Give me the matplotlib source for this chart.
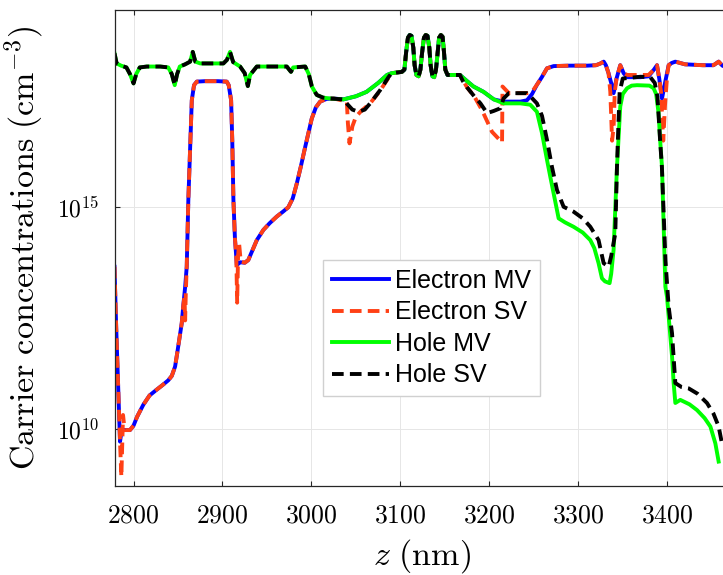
import numpy as np
import matplotlib.pyplot as plt

plt.rcParams['mathtext.fontset'] = 'cm'

# carrier densities, stored as log10(n / cm^-3)

# holes, left part (MV and SV coincide)
z_hole_left = [2778.6, 2781, 2786, 2792, 2796, 2800, 2803, 2807, 2815, 2830,
               2839, 2843, 2846.3, 2849, 2852, 2858, 2863.6, 2866.6, 2869.5, 2875,
               2890, 2901, 2905, 2908.5, 2912, 2919.8, 2925, 2928.5, 2931, 2938.6,
               2950, 2972.3, 2975, 2977, 2979.5, 2993, 2997, 3000.5, 3006, 3013,
               3021, 3036]
lg_hole_left = [18.47, 18.24, 18.19, 18.15, 18.0, 17.79, 18.0, 18.15, 18.17, 18.17,
                18.15, 18.0, 17.75, 18.0, 18.17, 18.22, 18.28, 18.50, 18.28, 18.24,
                18.24, 18.24, 18.32, 18.50, 18.27, 18.17, 18.02, 17.73, 17.98, 18.17,
                18.17, 18.17, 18.1, 18.05, 18.15, 18.17, 18.0, 17.72, 17.53, 17.47,
                17.45, 17.43]

# holes between 3036 and 3100 nm
z_hole_mv_b = [3050, 3062, 3075, 3085, 3090]
lg_hole_mv_b = [17.5, 17.6, 17.8, 17.98, 18.02]
z_hole_sv_b = [3040, 3046, 3053, 3060, 3066, 3077.3, 3086.6, 3090]
lg_hole_sv_b = [17.33, 17.2, 17.15, 17.2, 17.34, 17.64, 17.93, 18.02]

# oscillating region (all four curves)
z_osc = [3101.7, 3104.5, 3106.5, 3108.5, 3110.5, 3112.5, 3114.5, 3116, 3118, 3120.5,
         3122.5, 3124.5, 3126.5, 3128.5, 3130.5, 3132.5, 3134, 3136, 3138, 3140,
         3142, 3143.5, 3145.5, 3147.5, 3149, 3150.5, 3153, 3167]
lg_osc = [18.05, 18.1, 18.5, 18.82, 18.88, 18.86, 18.6, 18.2, 17.98, 17.95,
          18.1, 18.5, 18.82, 18.88, 18.86, 18.6, 18.2, 17.95, 17.93, 18.1,
          18.5, 18.82, 18.88, 18.84, 18.5, 18.1, 17.98, 17.98]

# holes, right part
z_hole_mv_d = [3175, 3182.2, 3193.5, 3205, 3216, 3235, 3246, 3253.5, 3259.2, 3264.8,
               3268.5, 3277.9, 3285, 3294.7, 3305, 3313.5, 3318, 3322.8, 3326.6, 3330,
               3335.2, 3337, 3339.7, 3343.5, 3347.2, 3350, 3354.8, 3360, 3366, 3380,
               3384.7, 3387.5, 3390.3, 3392, 3394.1, 3397.9, 3399.8, 3405.4, 3407.2, 3409.1,
               3414.7, 3425, 3433.5, 3442, 3448.5, 3454.1, 3457.8]
lg_hole_mv_d = [17.84, 17.72, 17.60, 17.43, 17.34, 17.34, 17.31, 17.15, 16.67, 16.07,
                15.69, 14.75, 14.66, 14.56, 14.43, 14.26, 14.08, 13.74, 13.40, 13.33,
                13.29, 13.5, 14.04, 15.91, 17.27, 17.55, 17.68, 17.74, 17.75, 17.74,
                17.68, 17.55, 17.12, 16.52, 15.91, 13.21, 12.97, 11.64, 11.04, 10.59,
                10.66, 10.56, 10.43, 10.25, 10.06, 9.68, 9.27]
z_hole_sv_d = [3170, 3175, 3183, 3190, 3197.5, 3205, 3212.4, 3216, 3222, 3242,
               3246, 3253.5, 3259.2, 3264.8, 3270.4, 3276, 3283.5, 3294.7, 3305, 3313.5,
               3322.8, 3328.5, 3334.1, 3337, 3341.6, 3343.5, 3345, 3346.5, 3350, 3370,
               3381, 3386, 3389, 3392, 3394, 3398, 3401.6, 3405.4, 3409.1, 3416,
               3424, 3434, 3444.7, 3452, 3457.8, 3461.5]
lg_hole_sv_d = [17.85, 17.7, 17.5, 17.34, 17.12, 17.17, 17.23, 17.45, 17.57, 17.57,
                17.5, 17.34, 17.06, 16.52, 15.91, 15.39, 15.01, 14.9, 14.75, 14.56,
                14.26, 13.74, 13.66, 13.9, 14.41, 15.91, 16.8, 17.6, 17.9, 17.94,
                17.93, 17.8, 17.49, 16.5, 15.9, 13.8, 12.76, 12.16, 11.04, 10.95,
                10.92, 10.8, 10.59, 10.35, 10.06, 9.68]

# electrons, left part
z_elec_mv_left = [2778.6, 2779.2, 2780.5, 2782, 2783.5, 2784.8, 2786, 2788, 2796, 2800,
                  2804, 2811, 2818, 2826, 2833, 2839, 2843, 2846.7, 2849, 2852,
                  2854.2, 2856, 2858, 2859.8, 2861.6, 2864.3, 2865.5, 2868, 2871.1, 2880,
                  2895, 2904.8, 2907, 2909.7, 2911, 2912.3, 2914, 2916.1, 2920, 2925,
                  2929, 2938.6, 2946, 2953, 2961, 2968, 2974, 2979, 2983.6, 2988,
                  2993, 3000.4, 3005, 3009.8, 3017, 3025]
lg_elec_mv_left = [13.66, 13.2, 12.3, 11.4, 10.5, 9.72, 9.88, 9.98, 9.98, 10.08,
                   10.28, 10.55, 10.76, 10.89, 11.0, 11.1, 11.2, 11.41, 11.7, 12.1,
                   12.39, 12.8, 13.2, 13.66, 15.16, 16.67, 17.41, 17.75, 17.83, 17.84,
                   17.84, 17.83, 17.75, 17.41, 16.5, 15.16, 14.3, 13.70, 13.76, 13.75,
                   13.81, 14.26, 14.49, 14.64, 14.79, 14.9, 15.0, 15.2, 15.54, 15.91,
                   16.36, 17.0, 17.25, 17.38, 17.44, 17.45]
z_elec_sv_left = [2778.6, 2779.2, 2780.5, 2782, 2783.5, 2784.8, 2786.3, 2787.2, 2788.2, 2790,
                  2796, 2800, 2804, 2811, 2818, 2826, 2833, 2839, 2843, 2846.7,
                  2849, 2852, 2854.2, 2856, 2857.3, 2858, 2858.8, 2859.8, 2861.6, 2864.3,
                  2865.5, 2868, 2871.1, 2880, 2895, 2904.8, 2907, 2909.7, 2911, 2912.3,
                  2914, 2915.5, 2916.5, 2917.5, 2918.7, 2920.5, 2925, 2929, 2938.6, 2946,
                  2953, 2961, 2968, 2974, 2979, 2983.6, 2988, 2993, 3000.4, 3005,
                  3009.8, 3017, 3025]
lg_elec_sv_left = [13.66, 13.2, 12.3, 11.4, 10.5, 9.72, 8.93, 9.6, 10.32, 9.98,
                   9.98, 10.08, 10.28, 10.55, 10.76, 10.89, 11.0, 11.1, 11.2, 11.41,
                   11.7, 12.1, 12.39, 12.8, 13.0, 12.45, 13.1, 13.66, 15.16, 16.67,
                   17.41, 17.75, 17.83, 17.84, 17.84, 17.83, 17.75, 17.41, 16.5, 15.16,
                   14.3, 13.9, 12.85, 13.9, 14.18, 13.78, 13.75, 13.81, 14.26, 14.49,
                   14.64, 14.79, 14.9, 15.0, 15.2, 15.54, 15.91, 16.36, 17.0, 17.25,
                   17.38, 17.44, 17.45]

# electron SV between 3036 and 3100 nm
z_elec_sv_b = [3036, 3039.8, 3041, 3042.8, 3046, 3050, 3056, 3066, 3077, 3087, 3090]
lg_elec_sv_b = [17.40, 17.38, 16.89, 16.44, 16.82, 17.04, 17.17, 17.34, 17.62, 17.93, 18.02]

# electrons, right part
z_elec_mv_d = [3175, 3182.2, 3193.5, 3205, 3216, 3235, 3242.3, 3248, 3253.5, 3259,
               3264.8, 3272.3, 3290, 3310, 3320, 3325, 3328.6, 3331, 3334, 3337,
               3339.7, 3343, 3347.2, 3351, 3355, 3370, 3379, 3385, 3388.5, 3391,
               3394.1, 3398, 3401.6, 3405, 3409.1, 3420, 3440, 3452, 3457.8, 3462,
               3470]
lg_elec_mv_d = [17.84, 17.72, 17.60, 17.43, 17.38, 17.38, 17.41, 17.55, 17.76, 17.93,
                18.13, 18.18, 18.19, 18.19, 18.2, 18.24, 18.28, 18.2, 18.02, 17.8,
                17.57, 17.9, 18.2, 18.02, 17.93, 17.93, 17.95, 18.1, 18.2, 17.9,
                17.45, 17.85, 18.2, 18.25, 18.28, 18.22, 18.2, 18.2, 18.28, 18.19,
                18.12]
z_elec_sv_d = [3175, 3183, 3191.7, 3203, 3214.3, 3214.8, 3222, 3242, 3248, 3253.5,
               3259, 3264.8, 3272.3, 3290, 3310, 3320, 3325, 3328.6, 3331, 3334,
               3336, 3338, 3339.7, 3341, 3343, 3347.2, 3351, 3355, 3370, 3379,
               3385, 3388.5, 3391, 3393, 3395.5, 3397.5, 3400, 3401.6, 3405, 3409.1,
               3420, 3440, 3452, 3457.8, 3462, 3470]
lg_elec_sv_d = [17.7, 17.5, 17.19, 16.70, 16.46, 17.72, 17.57, 17.57, 17.6, 17.76,
                17.93, 18.13, 18.18, 18.19, 18.19, 18.2, 18.24, 18.28, 18.2, 18.02,
                17.6, 16.5, 16.8, 17.6, 17.9, 18.2, 18.02, 17.98, 17.98, 17.98,
                18.1, 18.2, 17.9, 17.6, 16.5, 17.3, 18.0, 18.2, 18.25, 18.28,
                18.22, 18.2, 18.2, 18.28, 18.19, 18.12]

x_ticks = [2800, 2900, 3000, 3100, 3200, 3300, 3400]
y_ticks = [1e10, 1e15]
y_tick_labels = [r'$10^{10}$', r'$10^{15}$']

# assemble the four curves
z_e_mv = np.concatenate([z_elec_mv_left, z_hole_left[-1:], z_hole_mv_b, z_osc, z_elec_mv_d])
n_e_mv = 10 ** np.concatenate([lg_elec_mv_left, lg_hole_left[-1:], lg_hole_mv_b, lg_osc, lg_elec_mv_d])
z_e_sv = np.concatenate([z_elec_sv_left, z_elec_sv_b, z_osc, z_elec_sv_d])
n_e_sv = 10 ** np.concatenate([lg_elec_sv_left, lg_elec_sv_b, lg_osc, lg_elec_sv_d])
z_h_mv = np.concatenate([z_hole_left, z_hole_mv_b, z_osc, z_hole_mv_d])
n_h_mv = 10 ** np.concatenate([lg_hole_left, lg_hole_mv_b, lg_osc, lg_hole_mv_d])
z_h_sv = np.concatenate([z_hole_left, z_hole_sv_b, z_osc, z_hole_sv_d])
n_h_sv = 10 ** np.concatenate([lg_hole_left, lg_hole_sv_b, lg_osc, lg_hole_sv_d])

fig = plt.figure(figsize=(7.23, 5.75), dpi=100)
ax = fig.add_axes([114.5 / 723, 89 / 575, 615 / 723, 476.5 / 575])

lw = 2.8
dash = (3.0, 1.6)
ax.plot(z_e_mv, n_e_mv, color='#0000ff', lw=lw, label='Electron MV')
ax.plot(z_e_sv, n_e_sv, color='#ff4015', lw=lw, dashes=dash, label='Electron SV')
ax.plot(z_h_mv, n_h_mv, color='#00ff00', lw=lw, label='Hole MV')
ax.plot(z_h_sv, n_h_sv, color='#000000', lw=lw, dashes=dash, label='Hole SV')

ax.set_yscale('log')
ax.set_xlim(2778.6, 3470)
ax.set_ylim(10 ** 8.72, 10 ** 19.455)

ax.set_xticks(x_ticks, labels=[f'${t}$' for t in x_ticks], fontsize=18.5)
ax.set_yticks(y_ticks, labels=y_tick_labels, fontsize=17)
ax.yaxis.set_minor_locator(plt.NullLocator())
ax.tick_params(direction='in', length=3.6, width=0.8, top=True, right=False,
               color='#262626')
ax.tick_params(axis='x', pad=12)
ax.tick_params(axis='y', pad=11)

for s in ax.spines.values():
    s.set_color('#262626')
    s.set_linewidth(0.9)

ax.grid(True, which='major', color='#e6e6e6', lw=0.7)
ax.set_axisbelow(True)

ax.set_xlabel(r'$z\ \mathrm{(nm)}$', fontsize=24.5, labelpad=6)
ax.set_ylabel(r'$\mathrm{Carrier\ concentrations\ (cm^{-3})}$', fontsize=24.5, labelpad=8)

ax.legend(loc='upper left', bbox_to_anchor=(0.339, 0.474), borderaxespad=0,
          prop={'family': 'Liberation Sans', 'size': 18}, fancybox=False,
          edgecolor='#d0d0d0', framealpha=1, handlelength=2.3, handletextpad=0.25,
          labelspacing=0.3, borderpad=0.35)

fig.savefig('out.png', dpi=100)
